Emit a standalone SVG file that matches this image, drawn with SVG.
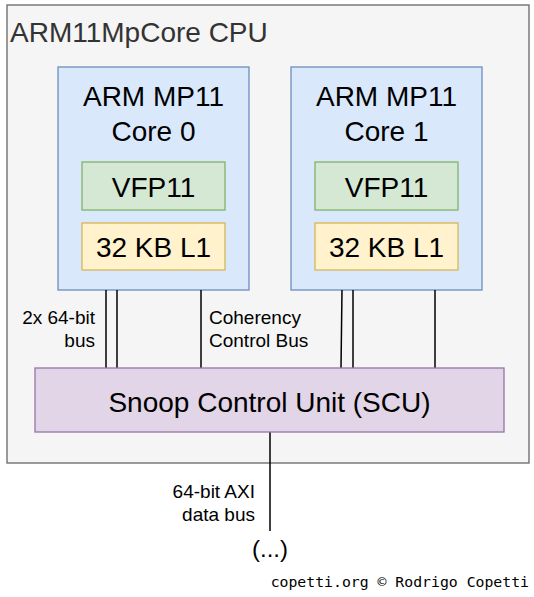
<svg xmlns="http://www.w3.org/2000/svg" width="534" height="597" viewBox="0 0 534 597">
<style>
text{font-family:"Liberation Sans",Arial,sans-serif;fill:#000}
.big{font-size:28px;text-anchor:middle}
.lbl{font-size:19px}
.core{fill:#dae8fc;stroke:#6c8ebf;stroke-width:1.3}
.vfp{fill:#d5e8d4;stroke:#82b366;stroke-width:1.3}
.l1{fill:#fff2cc;stroke:#d6b656;stroke-width:1.3}
.con line{stroke:#000;stroke-width:1.5}
</style>
<rect width="534" height="597" fill="#fff"/>
<g id="cpu">
<rect x="7" y="5" width="522" height="458" fill="#f5f5f5" stroke="#666" stroke-width="1.3"/>
<text x="10" y="42" style="font-size:28px;fill:#333">ARM11MpCore CPU</text>
</g>
<g id="core0">
<rect class="core" x="58" y="67" width="191" height="223"/>
<text class="big" x="153.5" y="106">ARM MP11</text>
<text class="big" x="153.5" y="141">Core 0</text>
</g>
<g id="vfp0">
<rect class="vfp" x="82" y="162" width="143" height="48"/>
<text class="big" x="153.5" y="197">VFP11</text>
</g>
<g id="l1_0">
<rect class="l1" x="82" y="223" width="143" height="47"/>
<text class="big" x="153.5" y="257">32 KB L1</text>
</g>
<g id="core1">
<rect class="core" x="291" y="67" width="191" height="223"/>
<text class="big" x="386.5" y="106">ARM MP11</text>
<text class="big" x="386.5" y="141">Core 1</text>
</g>
<g id="vfp1">
<rect class="vfp" x="315" y="162" width="143" height="48"/>
<text class="big" x="386.5" y="197">VFP11</text>
</g>
<g id="l1_1">
<rect class="l1" x="315" y="223" width="143" height="47"/>
<text class="big" x="386.5" y="257">32 KB L1</text>
</g>
<g id="connectors" class="con">
<line x1="106" y1="290" x2="106" y2="368"/>
<line x1="117" y1="290" x2="117" y2="368"/>
<line x1="201" y1="290" x2="201" y2="368"/>
<line x1="342" y1="290" x2="341" y2="368"/>
<line x1="353" y1="290" x2="353" y2="368"/>
<line x1="435" y1="290" x2="435" y2="368"/>
<line x1="270" y1="432" x2="270" y2="531"/>
</g>
<g id="scu">
<rect x="35" y="368" width="469" height="64" fill="#e1d5e7" stroke="#9673a6" stroke-width="1.3"/>
<text class="big" x="269.5" y="412">Snoop Control Unit (SCU)</text>
</g>
<g id="labels">
<text class="lbl" x="95" y="324" text-anchor="end">2x 64-bit</text>
<text class="lbl" x="95" y="347" text-anchor="end">bus</text>
<text class="lbl" x="209" y="324">Coherency</text>
<text class="lbl" x="209" y="347">Control Bus</text>
<text class="lbl" x="255" y="498" text-anchor="end">64-bit AXI</text>
<text class="lbl" x="255" y="521" text-anchor="end">data bus</text>
<text x="270" y="557" text-anchor="middle" style="font-size:24px">(...)</text>
<text x="529" y="587" text-anchor="end" style="font-family:'DejaVu Sans Mono',monospace;font-size:14.8px">copetti.org © Rodrigo Copetti</text>
</g>
</svg>
